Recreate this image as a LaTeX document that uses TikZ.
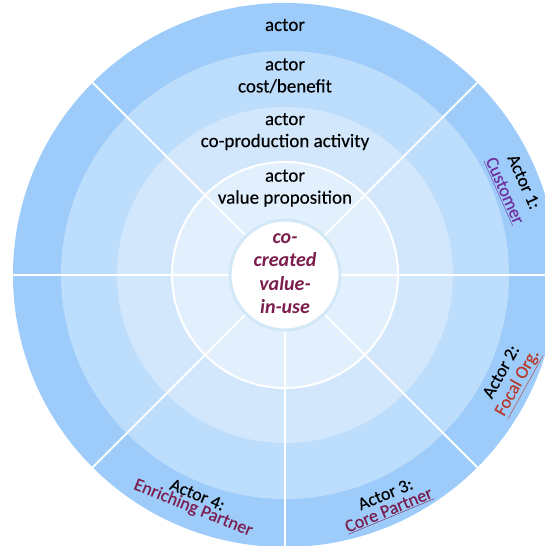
\documentclass[tikz,border=0pt]{standalone}
\usepackage{fontspec}
\setmainfont{Carlito}
\newfontfamily\medfont{Carlito}[FakeBold=0.35]
\usetikzlibrary{calc}
\definecolor{ringA}{HTML}{9DCCFA}
\definecolor{ringB}{HTML}{BCDDFC}
\definecolor{ringC}{HTML}{D2E7FB}
\definecolor{ringD}{HTML}{E2F0FD}
\definecolor{coreline}{HTML}{D3E8F6}
\definecolor{maroon}{HTML}{7B1E4E}
\definecolor{purp}{HTML}{7030A0}
\definecolor{rust}{HTML}{B83A2C}
\tikzset{
  disc/.style={circle, inner sep=0pt, outer sep=0pt, draw=none},
  spoke/.style={white, line width=2pt},
  lbl/.style={font=\medfont\fontsize{19}{22}\selectfont, align=center, text=black, inner sep=0pt},
  ctr/.style={font=\fontsize{20}{23.4}\selectfont\itshape\bfseries, text=maroon, align=center, inner sep=0pt},
  act/.style={font=\medfont\fontsize{18}{20}\selectfont, inner sep=0pt}
}
\begin{document}
\begin{tikzpicture}[x=1pt,y=1pt]
\useasboundingbox (0,0) rectangle (545,546);
\clip (0,0) rectangle (545,546);
\coordinate (c) at (285,271);
\node[disc, fill=ringA, minimum size=544pt] (outer) at (c) {};
\node[disc, fill=ringB, minimum size=448pt] (r3) at (c) {};
\node[disc, fill=ringC, minimum size=336pt] (r2) at (c) {};
\node[disc, fill=ringD, draw=white, line width=2pt, minimum size=226pt] (r1) at (c) {};
\foreach \a in {0,45,135,180,225,270,315}
  \draw[spoke] (c) ++(\a:56) -- (outer.\a);
\node[disc, fill=white, draw=coreline, line width=3pt, minimum size=110pt] (core) at (c) {};
% top labels
\node[lbl] (t4) at ($(c)+(0,250)$) {actor};
\node[lbl] (t3) at ($(c)+(0,199.2)$) {actor\\cost/benefit};
\node[lbl] (t2) at ($(c)+(0,143.4)$) {actor\\co-production activity};
\node[lbl] (t1) at ($(c)+(0,86.8)$) {actor\\value proposition};
\node[ctr] (cv) at ($(c)+(0,1.5)$) {co-\\created\\value-\\in-use};
% actors
\node[act, rotate=-66] (a1a) at ($(c)+(21.3:256.6)$) {Actor 1:};
\node[act, rotate=-66, text=purp] (a1b) at ($(c)+(21.0:234.7)$) {\underline{Customer}};
\node[act, rotate=61] (a2a) at ($(c)+(-24.1:236.4)$) {Actor 2:};
\node[act, rotate=61, text=rust] (a2b) at ($(c)+(-24.9:257.2)$) {\underline{Focal Org.}};
\node[act, rotate=22.5] (a3a) at ($(c)+(-65.4:241)$) {Actor 3:};
\node[act, rotate=22.5, text=maroon] (a3b) at ($(c)+(-66.2:257.6)$) {\underline{Core Partner}};
\node[act, rotate=-22.5] (a4a) at ($(c)+(-111.7:236.5)$) {Actor 4:};
\node[act, rotate=-22, text=maroon] (a4b) at ($(c)+(-111.5:250.5)$) {Enriching Partner};
\end{tikzpicture}
\end{document}
